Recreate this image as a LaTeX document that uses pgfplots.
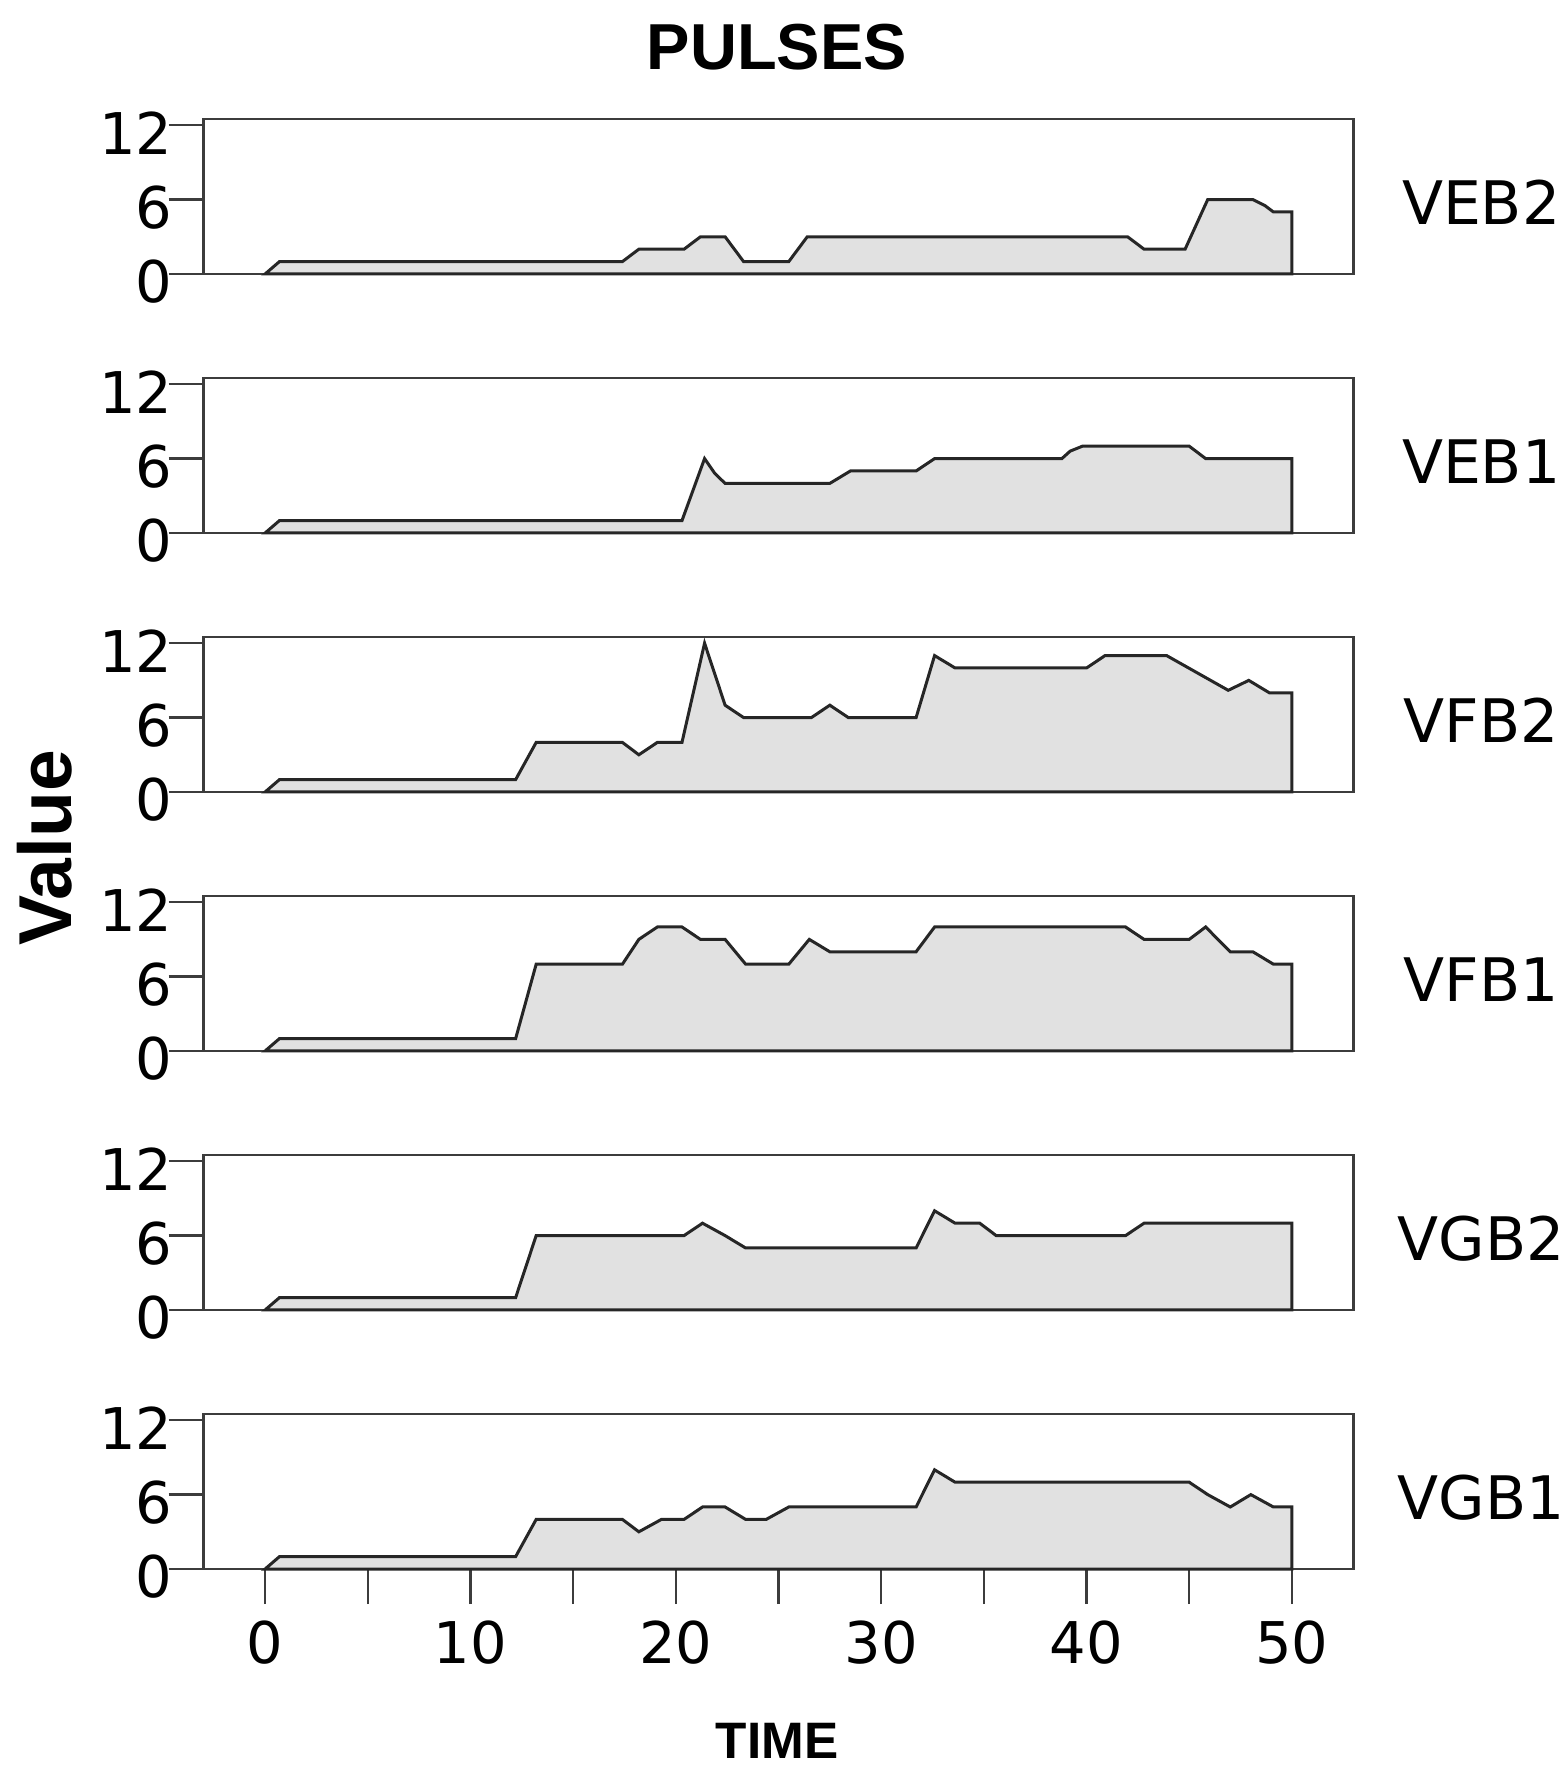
\documentclass[border=0pt]{standalone}
\usepackage{pgfplots}
\pgfplotsset{compat=1.18}
\usepackage{graphicx}
\usepackage{fontspec}
\setmainfont{DejaVu Sans}
\newfontfamily\libsans{Liberation Sans}
\definecolor{areafill}{RGB}{225,225,225}
\definecolor{framec}{RGB}{60,60,60}

\pgfplotsset{
  panel/.style={
    scale only axis, width=460pt, height=62pt,
    xmin=-3, xmax=53, ymin=0, ymax=12.5,
    axis line style={framec, line width=1pt},
    ytick={0,6,12}, tick pos=left, tick align=outside,
    major tick length=14pt, minor tick length=14pt,
    tick style={framec, line width=1pt},
    xtick=\empty,
    ticklabel style={font=\fontsize{23}{25}\selectfont},
    yticklabel style={yshift=-3pt, xshift=5pt},
    xticklabel style={yshift=-3pt},
    /pgf/number format/assume math mode=true,
    clip=false,
    anchor=south west,
  },
  area/.style={draw=black!85, line width=1.2pt, fill=areafill},
}
\newcommand{\paneltag}[1]{\node[font=\fontsize{24}{26}\selectfont] at (rel axis cs:1.111,0.46) {#1};}

\begin{document}
\begin{tikzpicture}
% VEB2
\begin{axis}[panel, at={(81.4pt,599.6pt)}]
\addplot[area] coordinates {(0,0) (0.7,1) (17.4,1) (18.2,2) (20.4,2) (21.2,3) (22.4,3) (23.3,1) (25.5,1) (26.4,3) (42,3) (42.8,2) (44.8,2) (45.9,6) (48.1,6) (48.7,5.5) (49.1,5) (50,5)} \closedcycle;
\paneltag{VEB2}
\end{axis}
% VEB1
\begin{axis}[panel, at={(81.4pt,496pt)}]
\addplot[area] coordinates {(0,0) (0.7,1) (20.3,1) (21.4,6) (21.9,4.8) (22.4,4) (27.5,4) (28,4.5) (28.5,5) (31.7,5) (32.6,6) (38.8,6) (39.2,6.6) (39.8,7) (45,7) (45.8,6) (50,6)} \closedcycle;
\paneltag{VEB1}
\end{axis}
% VFB2
\begin{axis}[panel, at={(81.4pt,392.4pt)}]
\addplot[area] coordinates {(0,0) (0.7,1) (12.2,1) (13.2,4) (17.4,4) (18.2,3) (19.1,4) (20.3,4) (21.4,12) (22.4,7) (23.3,6) (26.6,6) (27.5,7) (28.4,6) (31.7,6) (32.6,11) (33.6,10) (40,10) (40.9,11) (43.9,11) (45.4,9.6) (46.9,8.2) (47.9,9) (48.9,8) (50,8)} \closedcycle;
\paneltag{VFB2}
\end{axis}
% VFB1
\begin{axis}[panel, at={(81.4pt,288.8pt)}]
\addplot[area] coordinates {(0,0) (0.7,1) (12.2,1) (13.2,7) (17.4,7) (18.2,9) (19.1,10) (20.3,10) (21.2,9) (22.4,9) (23.4,7) (25.5,7) (26.5,9) (27.5,8) (31.7,8) (32.6,10) (41.9,10) (42.8,9) (45,9) (45.8,10) (47,8) (48.1,8) (49.1,7) (50,7)} \closedcycle;
\paneltag{VFB1}
\end{axis}
% VGB2
\begin{axis}[panel, at={(81.4pt,185.2pt)}]
\addplot[area] coordinates {(0,0) (0.7,1) (12.2,1) (13.2,6) (20.4,6) (21.3,7) (22.4,6) (23.4,5) (31.7,5) (32.6,8) (33.6,7) (34.8,7) (35.6,6) (41.9,6) (42.8,7) (50,7)} \closedcycle;
\paneltag{VGB2}
\end{axis}
% VGB1
\begin{axis}[panel, at={(81.4pt,81.6pt)},
  xtick={0,10,...,50}, minor xtick={5,15,...,45}]
\addplot[area] coordinates {(0,0) (0.7,1) (12.2,1) (13.2,4) (17.4,4) (18.2,3) (19.3,4) (20.4,4) (21.3,5) (22.4,5) (23.4,4) (24.4,4) (25.5,5) (31.7,5) (32.6,8) (33.6,7) (45,7) (45.9,6) (47,5) (48,6) (49.1,5) (50,5)} \closedcycle;
\paneltag{VGB1}
\end{axis}

\node[font=\libsans\bfseries\fontsize{26}{28}\selectfont] at (310.8pt,690.2pt) {PULSES};
\node[rotate=90, font=\libsans\bfseries\fontsize{30}{32}\selectfont] at (18pt,370pt) {Value};
\node[anchor=north, inner sep=0pt, font=\libsans\bfseries\fontsize{20.5}{22}\selectfont] at (310.8pt,20pt) {TIME};

\pgfresetboundingbox
\path[use as bounding box] (0,0) rectangle (626.8pt,709.2pt);
\end{tikzpicture}
\end{document}
